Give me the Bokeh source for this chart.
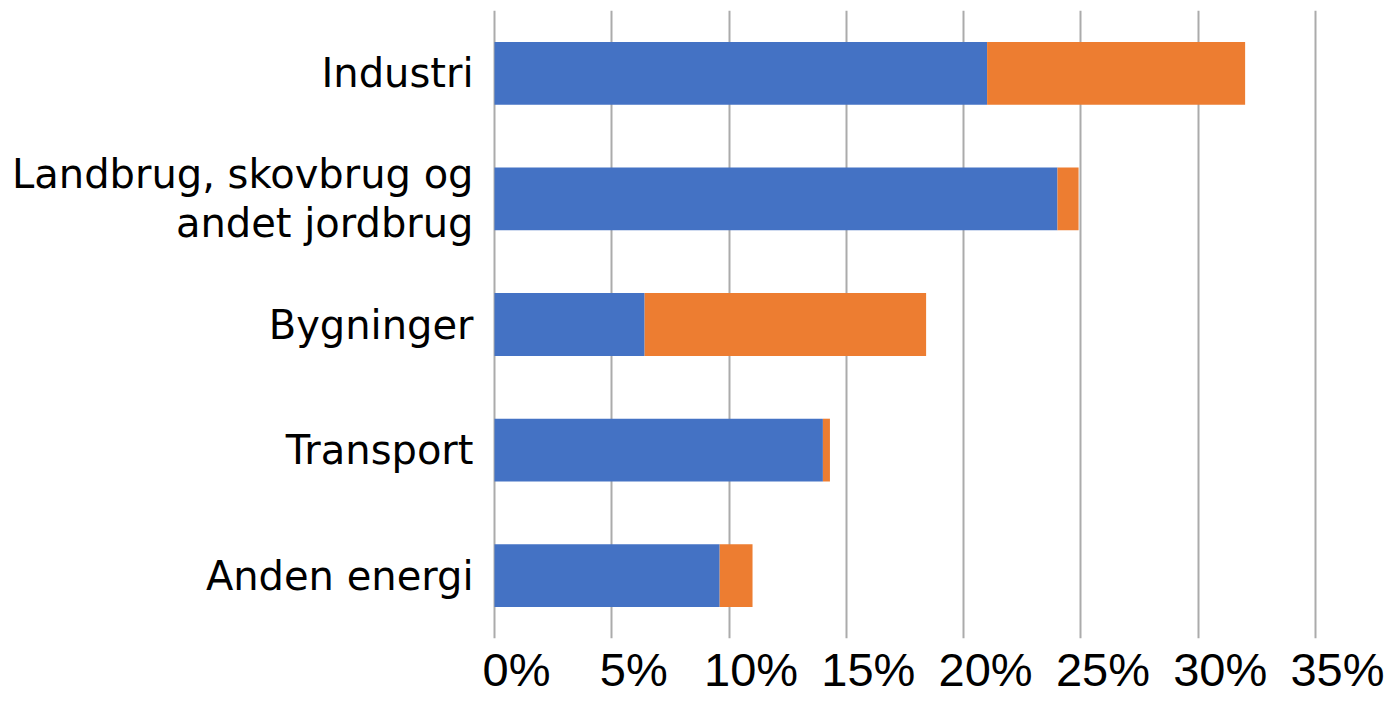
from bokeh.plotting import figure
from bokeh.models import Range1d, FactorRange, LinearAxis, FixedTicker, PrintfTickFormatter, ColumnDataSource
from bokeh.transform import dodge
from bokeh.core.properties import value
from bokeh.embed import file_html
from bokeh.resources import INLINE

categories = ["Industri", "Landbrug, skovbrug og andet jordbrug", "Bygninger", "Transport", "Anden energi"]
category_lines = [["Industri"], ["Landbrug, skovbrug og", "andet jordbrug"], ["Bygninger"], ["Transport"], ["Anden energi"]]
series_a = [21.0, 24.0, 6.4, 14.0, 9.6]
series_b = [11.0, 0.9, 12.0, 0.3, 1.4]
x_ticks = [0, 5, 10, 15, 20, 25, 30, 35]

BLUE = "#4472C4"
ORANGE = "#ED7D31"

W, H = 1391, 701
zero_px = 494
right_px = 1345
px_per_unit = (1315 - 494) / 35.0
x_start = -zero_px / px_per_unit
x_end = (right_px - zero_px) / px_per_unit
shift = 22 / px_per_unit

factors = list(reversed(categories))
p = figure(width=W, height=H, output_backend="svg", toolbar_location=None,
           x_range=Range1d(x_start, x_end), y_range=FactorRange(*factors, range_padding=0),
           min_border_left=0, min_border_right=W - right_px,
           min_border_top=10, min_border_bottom=63)

src = ColumnDataSource(dict(cat=categories, a=series_a, b=series_b,
                            ab=[x + y for x, y in zip(series_a, series_b)]))
p.hbar(y="cat", left=0, right="a", height=0.5, source=src, color=BLUE, line_color=None)
p.hbar(y="cat", left="a", right="ab", height=0.5, source=src, color=ORANGE, line_color=None)

p.xaxis.visible = False
p.yaxis.visible = False
p.xgrid.ticker = FixedTicker(ticks=x_ticks)
p.xgrid.grid_line_color = "#ABABAB"
p.xgrid.grid_line_width = 2
p.ygrid.grid_line_color = None
p.outline_line_color = None

p.extra_x_ranges = {"lab": Range1d(x_start - shift, x_end - shift)}
lab_axis = LinearAxis(x_range_name="lab", ticker=FixedTicker(ticks=x_ticks),
                      formatter=PrintfTickFormatter(format="%d%%"))
lab_axis.axis_line_color = None
lab_axis.major_tick_line_color = None
lab_axis.minor_tick_line_color = None
lab_axis.major_tick_out = 0
lab_axis.major_label_standoff = 4
lab_axis.major_label_text_font = "Liberation Sans"
lab_axis.major_label_text_font_size = "47px"
lab_axis.major_label_text_color = "#000000"
p.add_layout(lab_axis, "below")

# category labels, right-aligned left of the zero line
line_gap = 0.195
groups = {}
for cat, lines in zip(categories, category_lines):
    n = len(lines)
    for k, line in enumerate(lines):
        off = round((n - 1) * line_gap - 2 * line_gap * k, 3)
        groups.setdefault(off, {"cat": [], "txt": []})
        groups[off]["cat"].append(cat)
        groups[off]["txt"].append(line)

for off, d in groups.items():
    s = ColumnDataSource(d)
    p.text(x=0, y=dodge("cat", off, range=p.y_range), text="txt", source=s,
           x_offset=-21, text_align="right", text_baseline="middle",
           text_font=value("DejaVu Sans"), text_font_size="40px", text_color="#000000")

open("out.html", "w").write(file_html(p, INLINE))
